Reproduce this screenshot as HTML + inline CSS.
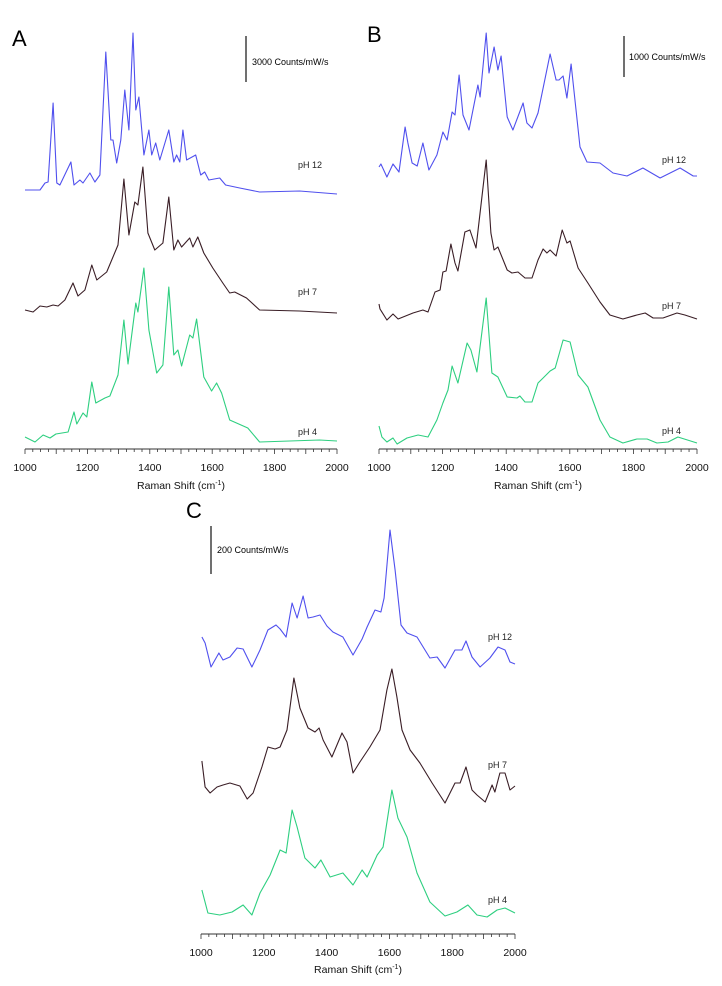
<!DOCTYPE html>
<html><head><meta charset="utf-8">
<style>
html,body{margin:0;padding:0;background:#fff;}
svg{display:block;font-family:"Liberation Sans",Arial,sans-serif;}
</style></head>
<body>
<svg id="fig" width="722" height="986" viewBox="0 0 722 986" xmlns="http://www.w3.org/2000/svg">
  <text x="12" y="46" font-size="22">A</text>
  <text x="367" y="42" font-size="22">B</text>
  <text x="186" y="518" font-size="22">C</text>
  <line x1="246" y1="36" x2="246" y2="82" stroke="#222" stroke-width="1.3"/>
  <text x="252" y="65" font-size="9">3000 Counts/mW/s</text>
  <line x1="624" y1="36" x2="624" y2="77" stroke="#222" stroke-width="1.3"/>
  <text x="629" y="60" font-size="9">1000 Counts/mW/s</text>
  <line x1="211" y1="526" x2="211" y2="574" stroke="#222" stroke-width="1.3"/>
  <text x="217" y="553" font-size="9">200 Counts/mW/s</text>
</svg>
<script>
// ---- Data (wavenumber cm^-1, relative intensity a.u.) ----
const tickLabels = [1000,1200,1400,1600,1800,2000];
const seriesNames = ["pH 12","pH 7","pH 4"];

const aWn12 = [1000,1048,1064,1074,1090,1102,1112,1147,1157,1176,1186,1208,1224,1240,1259,1275,1282,1294,1307,1320,1333,1346,1355,1365,1381,1397,1406,1419,1432,1461,1477,1486,1496,1506,1518,1547,1563,1576,1589,1624,1643,1688,1752,1880,2000];
const aI12  = [5,5,12,13,92,12,10,33,10,15,12,22,13,20,143,55,55,32,55,105,65,162,85,98,40,65,40,52,35,65,33,40,33,65,35,40,20,23,15,17,10,7,3,4,1];
const aWn7 = [1000,1026,1048,1070,1090,1106,1128,1154,1170,1192,1214,1230,1262,1298,1317,1333,1352,1362,1378,1394,1416,1442,1461,1477,1490,1502,1528,1538,1554,1573,1602,1634,1656,1672,1710,1752,1880,2000];
const aI7  = [5,3,9,8,10,9,15,32,19,25,50,35,43,70,136,80,113,110,148,82,65,72,118,65,75,68,77,68,78,62,47,32,22,23,17,5,4,2];
const aWn4 = [1000,1032,1058,1080,1099,1138,1157,1166,1186,1198,1214,1227,1256,1272,1298,1317,1330,1355,1362,1381,1397,1422,1442,1461,1477,1490,1502,1528,1538,1550,1573,1598,1614,1630,1656,1678,1714,1752,1848,1944,2000];
const aI4  = [8,3,10,7,11,13,33,21,32,28,63,42,47,49,70,125,81,142,133,177,115,72,80,158,90,95,79,110,107,126,68,54,62,52,25,22,17,3,4,5,4];

const bWn12 = [1000,1006,1025,1044,1063,1082,1091,1104,1120,1138,1157,1182,1201,1214,1230,1239,1252,1264,1283,1311,1318,1337,1346,1362,1374,1384,1403,1421,1453,1465,1481,1500,1538,1557,1566,1579,1591,1604,1632,1654,1695,1736,1780,1830,1884,1947,1988,2000];
const bI12  = [13,16,3,16,8,53,37,17,14,37,10,25,48,40,68,65,105,65,50,95,83,147,107,133,110,124,63,50,77,57,52,67,126,100,100,104,82,116,33,18,17,7,4,12,2,12,4,4];
const bWn7 = [1000,1003,1025,1044,1060,1107,1138,1154,1176,1192,1201,1211,1226,1239,1248,1270,1286,1305,1337,1352,1362,1374,1403,1418,1437,1459,1481,1500,1516,1528,1538,1557,1576,1591,1601,1626,1657,1695,1726,1767,1811,1837,1862,1893,1937,1962,2000];
const bI7  = [18,13,2,8,3,9,12,10,30,32,50,51,78,59,51,90,92,74,162,89,72,75,52,49,50,44,44,62,73,69,72,66,92,79,81,54,39,20,7,3,7,9,4,4,9,7,3];
const bWn4 = [1000,1009,1025,1044,1057,1088,1123,1154,1182,1201,1217,1230,1248,1277,1289,1308,1337,1355,1374,1403,1434,1443,1459,1481,1500,1516,1538,1554,1579,1601,1626,1657,1695,1726,1767,1811,1843,1874,1909,1940,2000];
const bI4  = [20,9,4,8,2,8,11,9,26,43,56,80,63,103,96,74,148,73,69,49,48,50,44,44,63,68,75,78,106,104,71,59,26,9,3,7,7,3,4,9,3];

const cWn12 = [1003,1013,1032,1057,1070,1092,1115,1134,1162,1188,1213,1239,1252,1271,1290,1306,1325,1341,1357,1379,1401,1420,1452,1484,1513,1529,1554,1573,1583,1602,1618,1637,1656,1688,1729,1752,1777,1809,1831,1844,1863,1889,1920,1946,1968,1984,2000];
const cI12  = [33,27,3,17,10,13,22,21,3,20,40,45,41,33,67,52,74,52,53,55,44,38,33,15,31,43,60,58,72,140,100,45,37,33,12,13,2,20,20,29,13,3,12,23,20,8,6];
const cWn7 = [1003,1013,1029,1051,1070,1092,1124,1147,1166,1194,1213,1236,1252,1274,1296,1315,1341,1363,1376,1389,1417,1449,1465,1484,1506,1538,1570,1592,1608,1624,1640,1666,1697,1736,1777,1809,1825,1844,1863,1879,1905,1927,1936,1952,1968,1984,2000];
const cI7  = [44,18,12,18,20,22,19,6,12,38,58,56,58,75,127,97,77,73,77,65,48,72,63,32,43,58,75,115,136,108,75,55,42,22,2,22,22,38,15,10,3,20,13,32,32,15,19];
const cWn4 = [1003,1022,1060,1099,1134,1162,1188,1220,1252,1271,1290,1306,1331,1363,1382,1411,1452,1484,1513,1529,1561,1580,1608,1627,1656,1688,1729,1777,1815,1850,1879,1911,1943,1968,2000];
const cI4  = [28,5,3,6,13,3,25,43,68,65,108,91,60,50,58,41,45,33,48,41,63,71,128,100,81,45,16,2,6,13,3,1,8,10,5];

// ---- Layout ----
const panels = [
  {id:"a", x0:25, x1:337, axisY:449, labelY:471, titleY:489, labelX:298,
   traces:[{wn:aWn12,v:aI12,base:195,color:"#5050ee",ly:168},{wn:aWn7,v:aI7,base:315,color:"#3a1e26",ly:295},{wn:aWn4,v:aI4,base:445,color:"#2ecf80",ly:435}]},
  {id:"b", x0:379, x1:697, axisY:449, labelY:471, titleY:489, labelX:662,
   traces:[{wn:bWn12,v:bI12,base:180,color:"#5050ee",ly:163},{wn:bWn7,v:bI7,base:322,color:"#3a1e26",ly:309},{wn:bWn4,v:bI4,base:446,color:"#2ecf80",ly:434}]},
  {id:"c", x0:201, x1:515, axisY:934, labelY:956, titleY:973, labelX:488,
   traces:[{wn:cWn12,v:cI12,base:670,color:"#5050ee",ly:640},{wn:cWn7,v:cI7,base:805,color:"#3a1e26",ly:768},{wn:cWn4,v:cI4,base:918,color:"#2ecf80",ly:903}]}
];
const NS="http://www.w3.org/2000/svg";
const svg=document.getElementById('fig');
function mk(tag,attrs){const e=document.createElementNS(NS,tag);for(const k in attrs)e.setAttribute(k,attrs[k]);return e;}

panels.forEach(p=>{
  const xs = w => p.x0 + (w-1000)/(2000-1000)*(p.x1-p.x0);
  const ys = (v,base) => base - v;
  const g=mk('g',{});
  
  
  svg.appendChild(g);
  // axis
  const ax=mk('line',{x1:p.x0,y1:p.axisY,x2:p.x1,y2:p.axisY,stroke:'#333','stroke-width':1});
  
  
  g.appendChild(ax);
  for(let w=1000; w<=2000; w+=25){
    const len = (w%100===0)?5:3;
    const t=mk('line',{x1:xs(w),y1:p.axisY,x2:xs(w),y2:p.axisY+len,stroke:'#333','stroke-width':0.8});
    
    
    g.appendChild(t);
  }
  tickLabels.forEach(l=>{
    const t=mk('text',{x:xs(l),y:p.labelY,'font-size':10.5,'text-anchor':'middle',fill:'#111'});
    t.textContent=l;
    
    
    g.appendChild(t);
  });
  const tt=mk('text',{x:(p.x0+p.x1)/2,y:p.titleY,'font-size':10.5,'text-anchor':'middle',fill:'#111'});
  tt.innerHTML='Raman Shift (cm<tspan dy="-4" font-size="7">-1</tspan><tspan dy="4">)</tspan>';
  
  
  g.appendChild(tt);
  p.traces.forEach((tr,i)=>{
    const d=tr.wn.map((w,j)=>(j?'L':'M')+xs(w).toFixed(1)+','+ys(tr.v[j],tr.base).toFixed(1)).join('');
    const path=mk('path',{d:d,fill:'none',stroke:tr.color,'stroke-width':1.1,'stroke-linejoin':'round'});
    
    
    g.appendChild(path);
    const lb=mk('text',{x:p.labelX,y:tr.ly,'font-size':9,fill:'#222'});
    lb.textContent=seriesNames[i];
    
    
    g.appendChild(lb);
  });
});
</script>
</body></html>
